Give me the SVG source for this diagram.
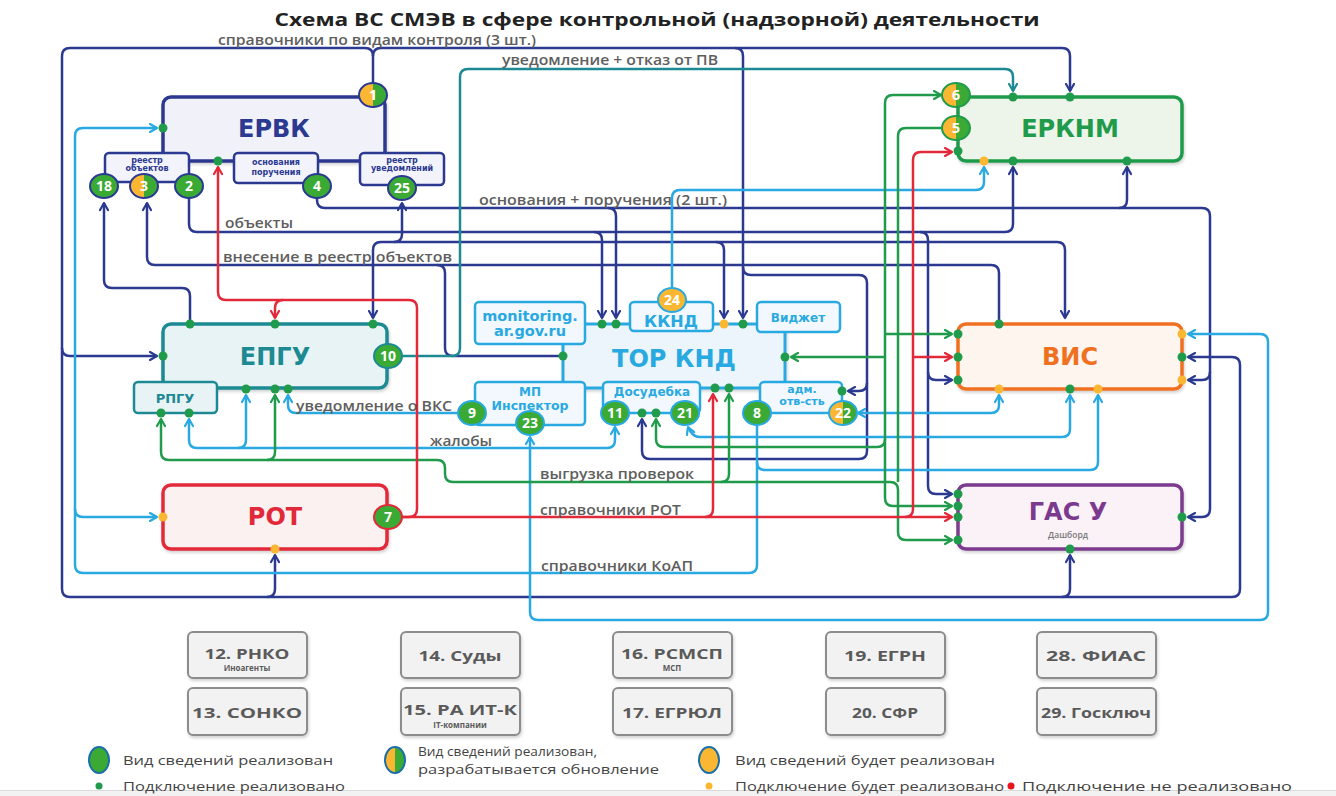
<svg xmlns="http://www.w3.org/2000/svg" width="1336" height="796" viewBox="0 0 1336 796">
<defs>
<style>
.ln{fill:none;stroke-width:2.5;stroke-linejoin:round}
.N{stroke:#2B3990}.L{stroke:#29A9E1}.G{stroke:#1F9B4B}.R{stroke:#E2293A}.T{stroke:#1D8A93}
.lbl{font-family:"Open Sans","DejaVu Sans",sans-serif;font-size:14px;font-weight:600;fill:#5e5e5e}
.big{font-family:"DejaVu Sans",sans-serif;font-weight:700;font-size:24px;text-anchor:middle}
.sm{font-family:"DejaVu Sans",sans-serif;font-weight:700;text-anchor:middle}
.bt{font-family:"Open Sans","DejaVu Sans",sans-serif;font-weight:700;font-size:14px;fill:#fff;text-anchor:middle}
.dg{fill:#1F9B4B}.dy{fill:#FBB731}.dr{fill:#E8141C}
.ext rect{fill:#F2F2F2;stroke:#8C8C8C;stroke-width:2}
.ext text{font-family:"Open Sans",sans-serif;font-weight:700;fill:#5a5a5a;text-anchor:middle}
.leg{font-family:"Open Sans",sans-serif;font-size:13px;fill:#444}
.sub{fill:#F3F3FB;stroke:#2B3990;stroke-width:2.5}
.tsub{fill:#F2F8FD;stroke:#29A9E1;stroke-width:2.5}
</style>
<filter id="sh" x="-10%" y="-10%" width="130%" height="140%"><feDropShadow dx="1" dy="2" stdDeviation="1.5" flood-color="#000" flood-opacity="0.18"/></filter>
<marker id="aN" viewBox="0 0 10 10" refX="8.5" refY="5" markerWidth="10" markerHeight="10" markerUnits="userSpaceOnUse" orient="auto-start-reverse"><path d="M1.5,1 L8.5,5 L1.5,9" fill="none" stroke="#2B3990" stroke-width="2.2" stroke-linecap="round" stroke-linejoin="round"/></marker>
<marker id="aL" viewBox="0 0 10 10" refX="8.5" refY="5" markerWidth="10" markerHeight="10" markerUnits="userSpaceOnUse" orient="auto-start-reverse"><path d="M1.5,1 L8.5,5 L1.5,9" fill="none" stroke="#29A9E1" stroke-width="2.2" stroke-linecap="round" stroke-linejoin="round"/></marker>
<marker id="aG" viewBox="0 0 10 10" refX="8.5" refY="5" markerWidth="10" markerHeight="10" markerUnits="userSpaceOnUse" orient="auto-start-reverse"><path d="M1.5,1 L8.5,5 L1.5,9" fill="none" stroke="#1F9B4B" stroke-width="2.2" stroke-linecap="round" stroke-linejoin="round"/></marker>
<marker id="aR" viewBox="0 0 10 10" refX="8.5" refY="5" markerWidth="10" markerHeight="10" markerUnits="userSpaceOnUse" orient="auto-start-reverse"><path d="M1.5,1 L8.5,5 L1.5,9" fill="none" stroke="#E2293A" stroke-width="2.2" stroke-linecap="round" stroke-linejoin="round"/></marker>
<marker id="aT" viewBox="0 0 10 10" refX="8.5" refY="5" markerWidth="10" markerHeight="10" markerUnits="userSpaceOnUse" orient="auto-start-reverse"><path d="M1.5,1 L8.5,5 L1.5,9" fill="none" stroke="#1D8A93" stroke-width="2.2" stroke-linecap="round" stroke-linejoin="round"/></marker>
<g id="half"><path d="M0,-12 A14,12 0 0 0 0,12 Z" fill="#FBB731"/><path d="M0,-12 A14,12 0 0 1 0,12 Z" fill="#3AAA35"/></g>
</defs>

<rect width="1336" height="796" fill="#fff"/>
<text id="title" x="657" y="26" text-anchor="middle" textLength="765" lengthAdjust="spacingAndGlyphs" style="font-family:'Open Sans','DejaVu Sans',sans-serif;font-weight:700;font-size:17px;fill:#222">Схема ВС СМЭВ в сфере контрольной (надзорной) деятельности</text>

<g id="connectors">
<!-- navy -->
<path class="ln N" d="M373,83 L373,56 Q373,48 365,48 L70,48 Q62,48 62,56 L62,589 Q62,597 70,597 L1232,597 Q1240,597 1240,589 L1240,365 Q1240,357 1232,357 L1188,357" marker-end="url(#aN)"/>
<path class="ln N" d="M373,56 Q373,48 381,48 L1062,48 Q1070,48 1070,56 L1070,91" marker-end="url(#aN)"/>
<path class="ln N" d="M62,348 Q62,356 70,356 L157,356" marker-end="url(#aN)"/>
<path class="ln N" d="M267,597 Q275,597 275,589 L275,555" marker-end="url(#aN)"/>
<path class="ln N" d="M1062,597 Q1070,597 1070,589 L1070,555" marker-end="url(#aN)"/>
<path class="ln N" d="M735,48 Q743,48 743,56 L743,318" marker-end="url(#aN)"/>
<path class="ln N" d="M743,267 Q743,275 751,275 L859,275 Q867,275 867,283 L867,451 Q867,459 859,459 L650,459 Q642,459 642,451 L642,419" marker-end="url(#aN)"/>
<path class="ln N" d="M867,383 Q867,391 859,391 L848,391" marker-end="url(#aN)"/>
<path class="ln N" d="M317,198 L317,200 Q317,208 325,208 L1202,208 Q1210,208 1210,216 L1210,509 Q1210,517 1202,517 L1188,517" marker-end="url(#aN)"/>
<path class="ln N" d="M608,208 Q616,208 616,216 L616,318" marker-end="url(#aN)"/>
<path class="ln N" d="M1119,208 Q1127,208 1127,200 L1127,167" marker-end="url(#aN)"/>
<path class="ln N" d="M1210,372 Q1210,380 1202,380 L1188,380" marker-end="url(#aN)"/>
<path class="ln N" d="M189,198 L189,224 Q189,232 197,232 L1005,232 Q1013,232 1013,224 L1013,167" marker-end="url(#aN)"/>
<path class="ln N" d="M594,232 Q602,232 602,240 L602,318" marker-end="url(#aN)"/>
<path class="ln N" d="M920,232 Q928,232 928,240 L928,486 Q928,494 936,494 L952,494" marker-end="url(#aN)"/>
<path class="ln N" d="M928,372 Q928,380 936,380 L952,380" marker-end="url(#aN)"/>
<path class="ln N" d="M373,318 L373,250 Q373,242 381,242 L1057,242 Q1065,242 1065,250 L1065,318" marker-start="url(#aN)" marker-end="url(#aN)"/>
<path class="ln N" d="M394,242 Q402,242 402,234 L402,203" marker-end="url(#aN)"/>
<path class="ln N" d="M716,242 Q724,242 724,250 L724,318" marker-end="url(#aN)"/>
<path class="ln N" d="M147,203 L147,257 Q147,265 155,265 L991,265 Q999,265 999,273 L999,320" marker-start="url(#aN)"/>
<path class="ln N" d="M437,265 Q445,265 445,273 L445,348 Q445,356 453,356 L560,356"/>
<path class="ln N" d="M104,203 L104,280 Q104,288 112,288 L182,288 Q190,288 190,296 L190,320" marker-start="url(#aN)"/>
<!-- teal -->
<path class="ln T" d="M401,356 L452,356 Q460,356 460,348 L460,77 Q460,69 468,69 L1005,69 Q1013,69 1013,77 L1013,91" marker-end="url(#aT)"/>
<!-- light blue -->
<path class="ln L" d="M672,288 L672,198 Q672,190 680,190 L976,190 Q984,190 984,182 L984,167" marker-end="url(#aL)"/>
<path class="ln L" d="M757,425 L757,565 Q757,573 749,573 L83,573 Q75,573 75,565 L75,136 Q75,128 83,128 L157,128" marker-end="url(#aL)"/>
<path class="ln L" d="M75,509 Q75,517 83,517 L157,517" marker-end="url(#aL)"/>
<path class="ln L" d="M757,462 Q757,470 765,470 L1090,470 Q1098,470 1098,462 L1098,395" marker-end="url(#aL)"/>
<path class="ln L" d="M688,427 Q692,437 700,437 L1062,437 Q1070,437 1070,429 L1070,395" marker-start="url(#aL)" marker-end="url(#aL)"/>
<path class="ln L" d="M858,413 L991,413 Q999,413 999,405 L999,395" marker-start="url(#aL)" marker-end="url(#aL)"/>
<path class="ln L" d="M1188,334 L1260,334 Q1268,334 1268,342 L1268,612 Q1268,620 1260,620 L538,620 Q530,620 530,612 L530,437" marker-start="url(#aL)" marker-end="url(#aL)"/>
<path class="ln L" d="M459,413 L296,413 Q288,413 288,405 L288,395" marker-end="url(#aL)"/>
<path class="ln L" d="M615,427 L615,440 Q615,448 607,448 L197,448 Q189,448 189,440 L189,419" marker-start="url(#aL)" marker-end="url(#aL)"/>
<path class="ln L" d="M238,448 Q246,448 246,440 L246,395" marker-end="url(#aL)"/>
<!-- green -->
<path class="ln G" d="M161,419 L161,452 Q161,460 169,460 L437,460 Q445,460 445,468 L445,474 Q445,482 453,482 L890,482 Q898,482 898,490 L898,532 Q898,540 906,540 L952,540" marker-start="url(#aG)" marker-end="url(#aG)"/>
<path class="ln G" d="M267,460 Q275,460 275,452 L275,395" marker-end="url(#aG)"/>
<path class="ln G" d="M721,482 Q729,482 729,474 L729,394" marker-end="url(#aG)"/>
<path class="ln G" d="M942,128 L906,128 Q898,128 898,136 L898,482"/>
<path class="ln G" d="M941,95 L893,95 Q885,95 885,103 L885,498 Q885,506 893,506 L952,506" marker-start="url(#aG)" marker-end="url(#aG)"/>
<path class="ln G" d="M885,357 L791,357" marker-end="url(#aG)"/>
<path class="ln G" d="M885,334 L952,334" marker-end="url(#aG)"/>
<path class="ln G" d="M656,419 L656,439 Q656,447 664,447 L877,447 Q885,447 885,439" marker-start="url(#aG)"/>
<!-- red -->
<path class="ln R" d="M401,517 L952,517" marker-end="url(#aR)"/>
<path class="ln R" d="M705,517 Q713,517 713,509 L713,394" marker-end="url(#aR)"/>
<path class="ln R" d="M905,517 Q913,517 913,509 L913,160 Q913,152 921,152 L952,152" marker-end="url(#aR)"/>
<path class="ln R" d="M913,357 L952,357" marker-end="url(#aR)"/>
<path class="ln R" d="M401,517 L409,517 Q417,517 417,509 L417,308 Q417,300 409,300 L226,300 Q218,300 218,292 L218,167" marker-end="url(#aR)"/>
<path class="ln R" d="M283,300 Q275,300 275,308 L275,318" marker-end="url(#aR)"/>
<!-- labels -->
<text class="lbl" x="218" y="45" textLength="318" lengthAdjust="spacingAndGlyphs">справочники по видам контроля (3 шт.)</text>
<text class="lbl" x="502" y="65" textLength="216" lengthAdjust="spacingAndGlyphs">уведомление + отказ от ПВ</text>
<text class="lbl" x="479" y="205" textLength="248" lengthAdjust="spacingAndGlyphs">основания + поручения (2 шт.)</text>
<text class="lbl" x="225" y="228" textLength="68" lengthAdjust="spacingAndGlyphs">объекты</text>
<text class="lbl" x="223" y="262" textLength="229" lengthAdjust="spacingAndGlyphs">внесение в реестр объектов</text>
<text class="lbl" x="296" y="411" textLength="156" lengthAdjust="spacingAndGlyphs">уведомление о ВКС</text>
<text class="lbl" x="430" y="446" textLength="62" lengthAdjust="spacingAndGlyphs">жалобы</text>
<text class="lbl" x="540" y="479" textLength="154" lengthAdjust="spacingAndGlyphs">выгрузка проверок</text>
<text class="lbl" x="540" y="515" textLength="141" lengthAdjust="spacingAndGlyphs">справочники РОТ</text>
<text class="lbl" x="541" y="571" textLength="152" lengthAdjust="spacingAndGlyphs">справочники КоАП</text>
</g>

<g id="node-ervk">
<rect x="163" y="97" width="222" height="64" rx="8" fill="#F1F1FA" stroke="#2B3990" stroke-width="3.5" filter="url(#sh)"/>
<text class="big" x="274" y="137" fill="#2B3990">ЕРВК</text>
<rect class="sub" x="105" y="153" width="84" height="29" rx="4"/>
<rect class="sub" x="234" y="153" width="84" height="30" rx="4"/>
<rect class="sub" x="360" y="153" width="84" height="32" rx="4"/>
<text class="sm" x="147" y="163" font-size="8" fill="#2B3990">реестр</text>
<text class="sm" x="147" y="171" font-size="8" fill="#2B3990">объектов</text>
<text class="sm" x="276" y="165" font-size="8" fill="#2B3990">основания</text>
<text class="sm" x="276" y="175" font-size="8" fill="#2B3990">поручения</text>
<text class="sm" x="402" y="163" font-size="8" fill="#2B3990">реестр</text>
<text class="sm" x="402" y="171" font-size="8" fill="#2B3990">уведомлений</text>
<circle class="dg" cx="163" cy="128" r="4.5"/>
<circle class="dg" cx="218" cy="161" r="4.5"/>
<ellipse cx="104" cy="186" rx="14" ry="12" fill="#3AAA35" stroke="#2B3990" stroke-width="2"/><text class="bt" x="104" y="191">18</text>
<use href="#half" x="144" y="186"/><ellipse cx="144" cy="186" rx="14" ry="12" fill="none" stroke="#2B3990" stroke-width="2"/><text class="bt" x="144" y="191">3</text>
<ellipse cx="189" cy="186" rx="14" ry="12" fill="#3AAA35" stroke="#2B3990" stroke-width="2"/><text class="bt" x="189" y="191">2</text>
<ellipse cx="317" cy="186" rx="14" ry="12" fill="#3AAA35" stroke="#2B3990" stroke-width="2"/><text class="bt" x="317" y="191">4</text>
<ellipse cx="402" cy="188" rx="14" ry="12" fill="#3AAA35" stroke="#2B3990" stroke-width="2"/><text class="bt" x="402" y="193">25</text>
<use href="#half" x="373" y="95"/><ellipse cx="373" cy="95" rx="14" ry="12" fill="none" stroke="#2B3990" stroke-width="2"/><text class="bt" x="373" y="100">1</text>
</g>

<g id="node-epgu">
<rect x="163" y="324" width="224" height="64" rx="8" fill="#E8F3F5" stroke="#1D8A93" stroke-width="3.5" filter="url(#sh)"/>
<text class="big" x="275" y="365" fill="#1D8A93">ЕПГУ</text>
<rect x="134" y="382" width="83" height="31" rx="4" fill="#E8F3F5" stroke="#1D8A93" stroke-width="2.5"/>
<text class="sm" x="175" y="403" font-size="13" fill="#1D8A93">РПГУ</text>
<circle class="dg" cx="190" cy="324" r="4.5"/><circle class="dg" cx="275" cy="324" r="4.5"/><circle class="dg" cx="373" cy="324" r="4.5"/>
<circle class="dg" cx="163" cy="356" r="4.5"/>
<circle class="dg" cx="246" cy="389" r="4.5"/><circle class="dg" cx="275" cy="389" r="4.5"/><circle class="dg" cx="288" cy="389" r="4.5"/>
<circle class="dg" cx="161" cy="413" r="4.5"/><circle class="dg" cx="189" cy="413" r="4.5"/>
<ellipse cx="388" cy="356" rx="14" ry="12" fill="#3AAA35" stroke="#1D8A93" stroke-width="2"/><text class="bt" x="388" y="361">10</text>
</g>

<g id="node-rot">
<rect x="163" y="485" width="224" height="64" rx="8" fill="#FCF1F1" stroke="#E2293A" stroke-width="3.5" filter="url(#sh)"/>
<text class="big" x="275" y="525" fill="#E2293A">РОТ</text>
<circle class="dy" cx="163" cy="517" r="4.5"/><circle class="dy" cx="275" cy="549" r="4.5"/>
<ellipse cx="388" cy="517" rx="14" ry="12" fill="#3AAA35" stroke="#E2293A" stroke-width="2"/><text class="bt" x="388" y="522">7</text>
</g>

<g id="node-tor">
<rect x="563" y="324" width="222" height="64" rx="6" fill="#EDF5FC" stroke="#29A9E1" stroke-width="3" filter="url(#sh)"/>
<text class="big" x="674" y="367" font-size="27" fill="#29A9E1">ТОР КНД</text>
<rect class="tsub" x="475" y="302" width="110" height="42" rx="4"/>
<rect class="tsub" x="630" y="302" width="83" height="29" rx="4"/>
<rect class="tsub" x="757" y="302" width="83" height="30" rx="4"/>
<rect class="tsub" x="475" y="382" width="110" height="43" rx="4"/>
<rect class="tsub" x="603" y="382" width="97" height="31" rx="4"/>
<rect class="tsub" x="760" y="382" width="82" height="31" rx="4"/>
<text class="sm" x="530" y="321" font-size="14.5" fill="#29A9E1">monitoring.</text>
<text class="sm" x="530" y="336" font-size="14.5" fill="#29A9E1">ar.gov.ru</text>
<text class="sm" x="671" y="327" font-size="16" fill="#29A9E1">ККНД</text>
<text class="sm" x="798" y="322" font-size="12" fill="#29A9E1">Виджет</text>
<text class="sm" x="530" y="396" font-size="12" fill="#29A9E1">МП</text>
<text class="sm" x="530" y="410" font-size="12.5" fill="#29A9E1">Инспектор</text>
<text class="sm" x="652" y="396" font-size="12" fill="#29A9E1">Досудебка</text>
<text class="sm" x="802" y="393" font-size="11" fill="#29A9E1">адм.</text>
<text class="sm" x="802" y="405" font-size="11" fill="#29A9E1">отв-сть</text>
<circle class="dg" cx="602" cy="324" r="4.5"/><circle class="dg" cx="616" cy="324" r="4.5"/><circle class="dy" cx="724" cy="324" r="4.5"/><circle class="dg" cx="743" cy="324" r="4.5"/>
<circle class="dg" cx="563" cy="356" r="4.5"/><circle class="dg" cx="785" cy="357" r="4.5"/>
<circle class="dg" cx="715" cy="388" r="4.5"/><circle class="dg" cx="729" cy="388" r="4.5"/>
<circle class="dg" cx="642" cy="413" r="4.5"/><circle class="dg" cx="656" cy="413" r="4.5"/>
<circle class="dg" cx="842" cy="391" r="4.5"/>
<ellipse cx="672" cy="300" rx="14" ry="12" fill="#FBB731" stroke="#29A9E1" stroke-width="2"/><text class="bt" x="672" y="305">24</text>
<ellipse cx="472" cy="413" rx="14" ry="12" fill="#3AAA35" stroke="#29A9E1" stroke-width="2"/><text class="bt" x="472" y="418">9</text>
<ellipse cx="530" cy="423" rx="14" ry="12" fill="#3AAA35" stroke="#29A9E1" stroke-width="2"/><text class="bt" x="530" y="428">23</text>
<ellipse cx="615" cy="413" rx="14" ry="12" fill="#3AAA35" stroke="#29A9E1" stroke-width="2"/><text class="bt" x="615" y="418">11</text>
<ellipse cx="685" cy="413" rx="14" ry="12" fill="#3AAA35" stroke="#29A9E1" stroke-width="2"/><text class="bt" x="685" y="418">21</text>
<ellipse cx="757" cy="413" rx="14" ry="12" fill="#3AAA35" stroke="#29A9E1" stroke-width="2"/><text class="bt" x="757" y="418">8</text>
<use href="#half" x="843" y="413"/><ellipse cx="843" cy="413" rx="14" ry="12" fill="none" stroke="#29A9E1" stroke-width="2"/><text class="bt" x="843" y="418">22</text>
</g>

<g id="node-erknm">
<rect x="958" y="97" width="224" height="64" rx="8" fill="#EDF5EA" stroke="#1F9B4B" stroke-width="3.5" filter="url(#sh)"/>
<text class="big" x="1070" y="137" fill="#1F9B4B">ЕРКНМ</text>
<circle class="dg" cx="1013" cy="97" r="4.5"/><circle class="dg" cx="1070" cy="97" r="4.5"/>
<circle class="dg" cx="958" cy="151" r="4.5"/>
<circle class="dy" cx="984" cy="161" r="4.5"/><circle class="dg" cx="1013" cy="161" r="4.5"/><circle class="dg" cx="1127" cy="161" r="4.5"/>
<use href="#half" x="956" y="95"/><ellipse cx="956" cy="95" rx="14" ry="12" fill="none" stroke="#1F9B4B" stroke-width="2"/><text class="bt" x="956" y="100">6</text>
<use href="#half" x="956" y="128"/><ellipse cx="956" cy="128" rx="14" ry="12" fill="none" stroke="#1F9B4B" stroke-width="2"/><text class="bt" x="956" y="133">5</text>
</g>

<g id="node-vis">
<rect x="958" y="324" width="224" height="65" rx="8" fill="#FDF5EE" stroke="#F07022" stroke-width="3.5" filter="url(#sh)"/>
<text class="big" x="1070" y="365" fill="#F07022">ВИС</text>
<circle class="dg" cx="999" cy="324" r="4.5"/>
<circle class="dg" cx="958" cy="334" r="4.5"/><circle class="dg" cx="958" cy="357" r="4.5"/><circle class="dg" cx="958" cy="380" r="4.5"/>
<circle class="dy" cx="1182" cy="334" r="4.5"/><circle class="dg" cx="1182" cy="357" r="4.5"/><circle class="dy" cx="1182" cy="380" r="4.5"/>
<circle class="dy" cx="999" cy="389" r="4.5"/><circle class="dg" cx="1070" cy="389" r="4.5"/><circle class="dy" cx="1098" cy="389" r="4.5"/>
</g>

<g id="node-gas">
<rect x="958" y="485" width="224" height="64" rx="8" fill="#FBF2F8" stroke="#7B3A8E" stroke-width="3.5" filter="url(#sh)"/>
<text class="big" x="1068" y="520" fill="#7B3A8E">ГАС У</text>
<text x="1068" y="538" text-anchor="middle" style="font-family:'Open Sans',sans-serif;font-size:8.5px;font-weight:600;fill:#777">Дашборд</text>
<circle class="dg" cx="958" cy="494" r="4.5"/><circle class="dg" cx="958" cy="506" r="4.5"/><circle class="dg" cx="958" cy="517" r="4.5"/><circle class="dg" cx="958" cy="540" r="4.5"/>
<circle class="dg" cx="1182" cy="517" r="4.5"/><circle class="dg" cx="1070" cy="549" r="4.5"/>
</g>

<g id="ext-12" class="ext"><rect x="188" y="632" width="119" height="46" rx="5" filter="url(#sh)"/><text x="247" y="659" font-size="15" textLength="85" lengthAdjust="spacingAndGlyphs">12. РНКО</text><text x="247" y="671" font-size="8" font-weight="400">Иноагенты</text></g>
<g id="ext-14" class="ext"><rect x="401" y="632" width="119" height="46" rx="5" filter="url(#sh)"/><text x="460" y="661" font-size="15" textLength="83" lengthAdjust="spacingAndGlyphs">14. Суды</text></g>
<g id="ext-16" class="ext"><rect x="613" y="632" width="119" height="46" rx="5" filter="url(#sh)"/><text x="672" y="659" font-size="15" textLength="102" lengthAdjust="spacingAndGlyphs">16. РСМСП</text><text x="672" y="671" font-size="8" font-weight="400">МСП</text></g>
<g id="ext-19" class="ext"><rect x="826" y="632" width="119" height="46" rx="5" filter="url(#sh)"/><text x="885" y="661" font-size="15" textLength="82" lengthAdjust="spacingAndGlyphs">19. ЕГРН</text></g>
<g id="ext-28" class="ext"><rect x="1037" y="632" width="119" height="46" rx="5" filter="url(#sh)"/><text x="1096" y="661" font-size="15" textLength="100" lengthAdjust="spacingAndGlyphs">28. ФИАС</text></g>
<g id="ext-13" class="ext"><rect x="188" y="688" width="119" height="47" rx="5" filter="url(#sh)"/><text x="247" y="718" font-size="15" textLength="110" lengthAdjust="spacingAndGlyphs">13. СОНКО</text></g>
<g id="ext-15" class="ext"><rect x="401" y="688" width="119" height="47" rx="5" filter="url(#sh)"/><text x="460" y="715" font-size="15" textLength="114" lengthAdjust="spacingAndGlyphs">15. РА ИТ-К</text><text x="460" y="728" font-size="8" font-weight="400">IT-компании</text></g>
<g id="ext-17" class="ext"><rect x="613" y="688" width="119" height="47" rx="5" filter="url(#sh)"/><text x="672" y="718" font-size="15" textLength="100" lengthAdjust="spacingAndGlyphs">17. ЕГРЮЛ</text></g>
<g id="ext-20" class="ext"><rect x="826" y="688" width="119" height="47" rx="5" filter="url(#sh)"/><text x="885" y="718" font-size="15" textLength="66" lengthAdjust="spacingAndGlyphs">20. СФР</text></g>
<g id="ext-29" class="ext"><rect x="1037" y="688" width="119" height="47" rx="5" filter="url(#sh)"/><text x="1096" y="718" font-size="15" textLength="110" lengthAdjust="spacingAndGlyphs">29. Госключ</text></g>

<g id="legend">
<rect x="0" y="790" width="1336" height="6" fill="#F2F2F2"/>
<line x1="0" y1="790.5" x2="1336" y2="790.5" stroke="#DADADA" stroke-width="1"/>
<ellipse cx="99" cy="760" rx="10" ry="13" fill="#3AAA35" stroke="#1B6FA8" stroke-width="2"/>
<text class="leg" x="123" y="765" textLength="210" lengthAdjust="spacingAndGlyphs">Вид сведений реализован</text>
<path d="M395,747 A10,13 0 0 0 395,773 Z" fill="#FBB731"/><path d="M395,747 A10,13 0 0 1 395,773 Z" fill="#3AAA35"/>
<ellipse cx="395" cy="760" rx="10" ry="13" fill="none" stroke="#1B6FA8" stroke-width="2"/>
<text class="leg" x="418" y="756" textLength="179" lengthAdjust="spacingAndGlyphs">Вид сведений реализован,</text>
<text class="leg" x="418" y="774" textLength="241" lengthAdjust="spacingAndGlyphs">разрабатывается обновление</text>
<ellipse cx="709" cy="760" rx="10" ry="13" fill="#FBB731" stroke="#1B6FA8" stroke-width="2"/>
<text class="leg" x="735" y="765" textLength="260" lengthAdjust="spacingAndGlyphs">Вид сведений будет реализован</text>
<circle class="dg" cx="99" cy="786" r="3.5"/>
<text class="leg" x="123" y="791" textLength="222" lengthAdjust="spacingAndGlyphs">Подключение реализовано</text>
<circle class="dy" cx="709" cy="786" r="3.5"/>
<text class="leg" x="735" y="791" textLength="269" lengthAdjust="spacingAndGlyphs">Подключение будет реализовано</text>
<circle class="dr" cx="1011" cy="786" r="3.5"/>
<text class="leg" x="1022" y="791" textLength="270" lengthAdjust="spacingAndGlyphs">Подключение не реализовано</text>
</g>
</svg>
